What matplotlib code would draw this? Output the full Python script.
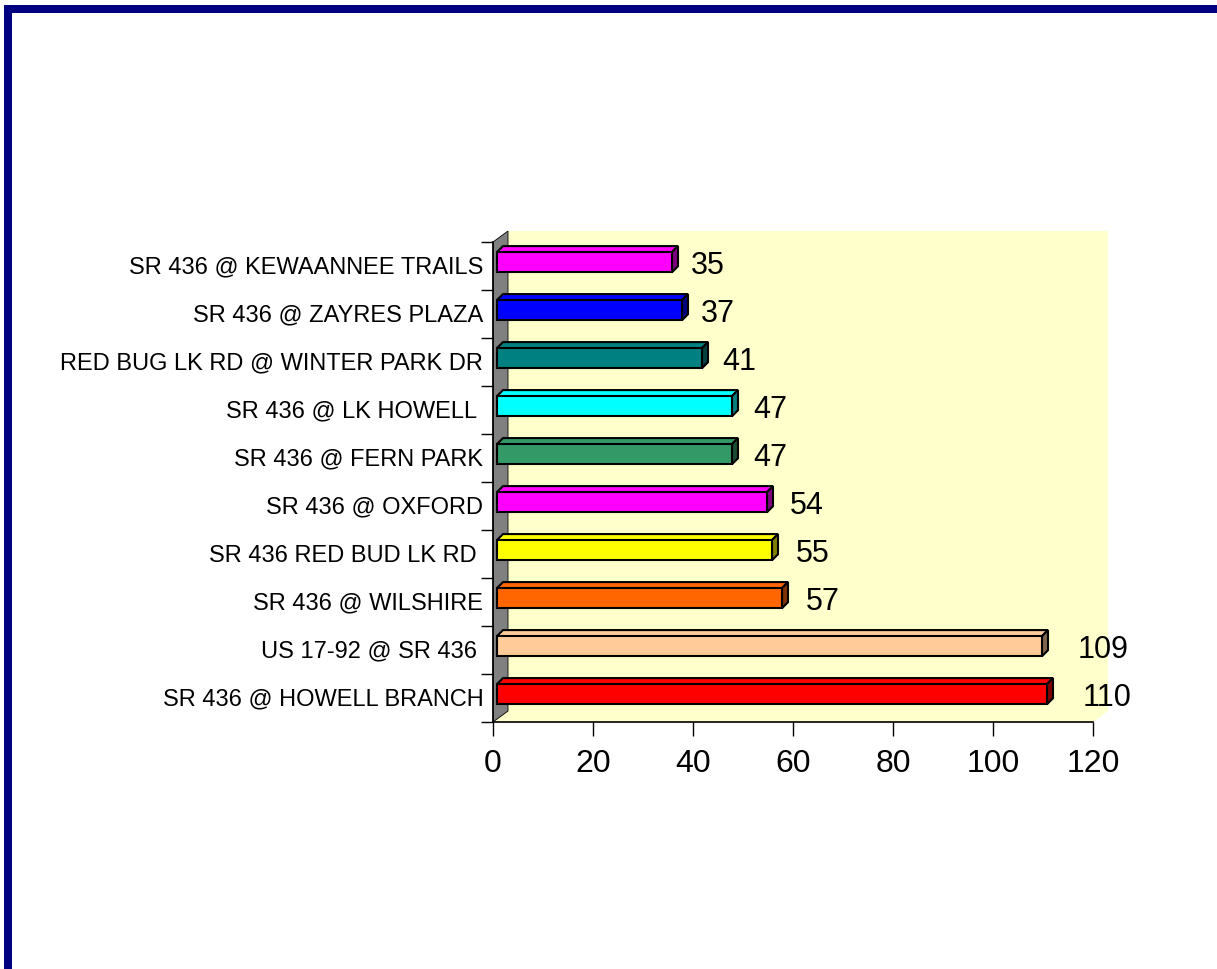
import matplotlib
matplotlib.use("Agg")
import matplotlib.pyplot as plt
from matplotlib.patches import Polygon, Rectangle

# data, top to bottom as drawn
labels = [
    "SR 436 @ KEWAANNEE TRAILS",
    "SR 436 @ ZAYRES PLAZA",
    "RED BUG LK RD @ WINTER PARK DR",
    "SR 436 @ LK HOWELL ",
    "SR 436 @ FERN PARK",
    "SR 436 @ OXFORD",
    "SR 436 RED BUD LK RD ",
    "SR 436 @ WILSHIRE",
    "US 17-92 @ SR 436 ",
    "SR 436 @ HOWELL BRANCH",
]
values = [35, 37, 41, 47, 47, 54, 55, 57, 109, 110]
colors = ["#FF00FF", "#0000FF", "#008080", "#00FFFF", "#339966",
          "#FF00FF", "#FFFF00", "#FF6600", "#FFCC99", "#FF0000"]
xticks = [0, 20, 40, 60, 80, 100, 120]

plt.rcParams['font.family'] = ['Liberation Sans', 'DejaVu Sans']

W, H = 1217, 970
fig = plt.figure(figsize=(W / 100, H / 100), dpi=100)

# navy frame round the chart
fig.patches.append(Rectangle((8 / W, -0.05), (1217 - 4) / W, (970 - 9 + 48) / H,
                             transform=fig.transFigure, fill=False,
                             edgecolor="#000080", linewidth=8 * 72 / 100))

ax = fig.add_axes([493 / W, (970 - 723) / H, 600 / W, 480 / H])
n = len(values)
ax.set_xlim(0, 120)
ax.set_ylim(n - 0.5, -0.5)

# 3d depth of walls (data units)
ddx, ddy = 3.0, -0.229
top, bot = -0.5, n - 0.5
wall = Polygon([(0, bot), (120, bot), (120 + ddx, bot + ddy), (120 + ddx, top + ddy),
                (ddx, top + ddy), (ddx, bot + ddy)], closed=True,
               facecolor="#FFFFCC", edgecolor="none", clip_on=False, zorder=0)
ax.add_patch(wall)
side = Polygon([(0, bot), (0, top), (ddx, top + ddy), (ddx, bot + ddy)], closed=True,
               facecolor="#808080", edgecolor="black", linewidth=0.6, clip_on=False, zorder=0.5)
ax.add_patch(side)


def darker(c, f=0.5):
    r, g, b = matplotlib.colors.to_rgb(c)
    return (r * f, g * f, b * f)


# bars: front face via barh, top and side faces as polygons
off = 0.8
bh = 0.42
bdx, bdy = 1.2, -0.125
ys = [i - 0.08 for i in range(n)]
ax.barh(ys, values, left=off, height=bh, color=colors, edgecolor="black",
        linewidth=1.5, zorder=3)
for y, v, c in zip(ys, values, colors):
    yt = y - bh / 2
    yb = y + bh / 2
    x1 = off + v
    ax.add_patch(Polygon([(off, yt), (x1, yt), (x1 + bdx, yt + bdy), (off + bdx, yt + bdy)],
                         closed=True, facecolor=c, edgecolor="black", linewidth=1.5, zorder=2.5))
    ax.add_patch(Polygon([(x1, yt), (x1 + bdx, yt + bdy), (x1 + bdx, yb + bdy), (x1, yb)],
                         closed=True, facecolor=darker(c), edgecolor="black", linewidth=1.5, zorder=2.5))
    ax.text(v * 1.045 + 3, y - 0.02, str(v), ha="left", va="center_baseline", fontsize=22,
            color="black", zorder=4)

for s in ["top", "right"]:
    ax.spines[s].set_visible(False)
ax.spines["left"].set_linewidth(1.2)
ax.spines["bottom"].set_linewidth(1.2)
ax.set_facecolor("none")

ax.set_yticks([i - 0.04 for i in range(n)])
ax.set_yticklabels(labels, fontsize=17)
ax.set_yticks([i - 0.5 for i in range(n + 1)], minor=True)
ax.tick_params(axis="y", which="major", length=0, pad=7)
ax.tick_params(axis="y", which="minor", length=9, width=1)

ax.set_xticks(xticks)
ax.set_xticklabels([str(t) for t in xticks], fontsize=23)
ax.tick_params(axis="x", length=10, width=1, pad=9)

fig.savefig("out.png", dpi=100, facecolor="white")
